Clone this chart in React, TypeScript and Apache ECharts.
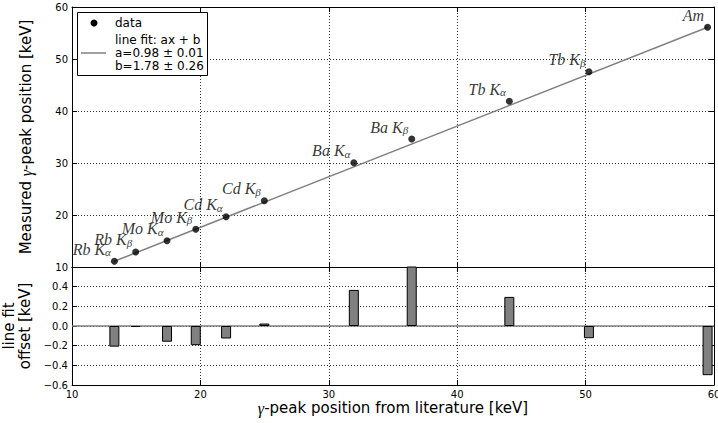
import React, { useEffect, useRef } from "react";
import * as echarts from "echarts";

// literature peak energies [keV]
const literature = [13.3, 14.96, 17.4, 19.64, 22.0, 24.98, 31.95, 36.46, 44.06, 50.26, 59.5];
// measured peak positions [keV]
const measured = [11.1, 12.9, 15.06, 17.25, 19.67, 22.75, 30.06, 34.6, 41.87, 47.56, 56.1];
// line fit residuals [keV]
const offsets = [-0.21, -0.01, -0.16, -0.195, -0.127, 0.025, 0.367, 0.65, 0.296, -0.124, -0.5];
// peak names and subscripts
const peakNames = ["Rb K", "Rb K", "Mo K", "Mo K", "Cd K", "Cd K", "Ba K", "Ba K", "Tb K", "Tb K", "Am"];
const peakSubs = ["α", "β", "α", "β", "α", "β", "α", "β", "α", "β", ""];
// fit line end points (literature, measured)
const fitLine = [
  [13.3, 11.1],
  [59.5, 56.1],
];
const xTicks = { min: 10, max: 60, interval: 10 };
const yTopTicks = { min: 10, max: 60, interval: 10 };
const yBotTicks = { min: -0.6, max: 0.6, interval: 0.2 };
const legendTexts = ["data", "line fit: ax + b", "a=0.98 ± 0.01", "b=1.78 ± 0.26"];

const SANS = "DejaVu Sans";
const SERIF = "Liberation Serif";

export default function App() {
  const ref = useRef<HTMLDivElement>(null);

  useEffect(() => {
    if (!ref.current) return;
    const chart = echarts.init(ref.current, undefined, { renderer: "svg" });

    const dotted = { show: true, lineStyle: { color: "#000", type: [1, 2] as any, width: 0.8 } };
    const axisLine = { show: true, onZero: false, lineStyle: { color: "#000", width: 1 } };
    const tick = { show: true, inside: true, length: 5, lineStyle: { color: "#000" } };
    const labelStyle = { fontFamily: SANS, fontSize: 10, color: "#000" };

    const fmtMinus = (v: number, d: number) => v.toFixed(d).replace("-", "\u2212");

    const gammaRich = {
      g: { fontFamily: SERIF, fontStyle: "italic", fontSize: 16, color: "#000" },
    };

    const scatterData = literature.map((x, i) => ({
      value: [x, measured[i]],
      name: peakNames[i],
      sub: peakSubs[i],
    }));

    const option: any = {
      animation: false,
      backgroundColor: "#fff",
      grid: [
        { left: 72, top: 7, width: 642, height: 260, outerBoundsMode: "none", containLabel: false },
        { left: 72, top: 267, width: 642, height: 118, outerBoundsMode: "none", containLabel: false },
      ],
      xAxis: [
        {
          type: "value", gridIndex: 0, position: "bottom", ...xTicks,
          axisLine, axisTick: tick, axisLabel: { show: false }, splitLine: dotted,
        },
        {
          type: "value", gridIndex: 0, position: "top", ...xTicks,
          axisLine, axisTick: tick, axisLabel: { show: false }, splitLine: { show: false },
        },
        {
          type: "value", gridIndex: 1, position: "bottom", ...xTicks,
          axisLine, axisTick: tick,
          axisLabel: { ...labelStyle, margin: 4 },
          splitLine: dotted,
          name: "{g|γ}-peak position from literature [keV]",
          nameLocation: "middle",
          nameGap: 15,
          nameTextStyle: { fontFamily: SANS, fontSize: 15, color: "#000", verticalAlign: "top", rich: gammaRich },
        },
        {
          type: "value", gridIndex: 1, position: "top", ...xTicks,
          axisLine, axisTick: tick, axisLabel: { show: false }, splitLine: { show: false },
        },
      ],
      yAxis: [
        {
          type: "value", gridIndex: 0, position: "left", ...yTopTicks,
          axisLine, axisTick: tick,
          axisLabel: { ...labelStyle, margin: 4 },
          splitLine: dotted,
          name: "Measured {g|γ}-peak position [keV]",
          nameLocation: "middle",
          nameGap: 38,
          nameRotate: 90,
          nameTextStyle: { fontFamily: SANS, fontSize: 15, color: "#000", rich: gammaRich },
        },
        {
          type: "value", gridIndex: 0, position: "right", ...yTopTicks,
          axisLine, axisTick: tick, axisLabel: { show: false }, splitLine: { show: false },
        },
        {
          type: "value", gridIndex: 1, position: "left", ...yBotTicks,
          axisLine, axisTick: tick,
          axisLabel: {
            ...labelStyle, margin: 4,
            formatter: (v: number) => (v > 0.55 ? "" : fmtMinus(v, 1)),
          },
          splitLine: dotted,
          name: "line fit\noffset [keV]",
          nameLocation: "middle",
          nameGap: 29,
          nameRotate: 90,
          nameTextStyle: { fontFamily: SANS, fontSize: 15, color: "#000", lineHeight: 16 },
        },
        {
          type: "value", gridIndex: 1, position: "right", ...yBotTicks,
          axisLine, axisTick: tick, axisLabel: { show: false }, splitLine: { show: false },
        },
      ],
      series: [
        {
          type: "line",
          xAxisIndex: 0, yAxisIndex: 0,
          data: fitLine,
          showSymbol: false,
          symbol: "none",
          lineStyle: { color: "#808080", width: 1.5 },
          z: 3,
        },
        {
          type: "scatter",
          xAxisIndex: 0, yAxisIndex: 0,
          data: scatterData,
          symbol: "circle",
          symbolSize: 7,
          itemStyle: { color: "#000" },
          z: 4,
          label: {
            show: true,
            position: [0, 0],
            align: "right",
            verticalAlign: "bottom",
            formatter: (p: any) =>
              p.data.sub ? `{n|${p.data.name}}{s|${p.data.sub}}` : `{n|${p.data.name}}`,
            rich: {
              n: { fontFamily: SERIF, fontStyle: "italic", fontSize: 16, color: "#000", lineHeight: 17 },
              s: { fontFamily: SERIF, fontStyle: "italic", fontSize: 11, color: "#000", lineHeight: 11, verticalAlign: "bottom" },
            },
          },
        },
        {
          type: "bar",
          xAxisIndex: 2, yAxisIndex: 2,
          data: literature.map((x, i) => [x, offsets[i]]),
          barWidth: 10,
          clip: true,
          itemStyle: { color: "#808080", borderColor: "#000", borderWidth: 1 },
          markLine: {
            silent: true,
            symbol: "none",
            label: { show: false },
            lineStyle: { color: "#808080", width: 1.5, type: "solid" },
            data: [{ yAxis: 0 }],
            z: 1,
          },
        },
      ],
      graphic: [
        {
          type: "rect",
          shape: { x: 77.5, y: 12.5, width: 130, height: 63 },
          style: { fill: "#fff", stroke: "#000", lineWidth: 1 },
          z: 100,
        },
        {
          type: "circle",
          shape: { cx: 94, cy: 23, r: 3.5 },
          style: { fill: "#000" },
          z: 101,
        },
        {
          type: "line",
          shape: { x1: 81, y1: 53, x2: 106, y2: 53 },
          style: { stroke: "#808080", lineWidth: 1.5 },
          z: 101,
        },
        ...legendTexts.map((t, i) => ({
          type: "text",
          x: 115,
          y: i === 0 ? 23 : 40 + (i - 1) * 13,
          z: 101,
          style: { text: t, fontFamily: SANS, fontSize: 12, fill: "#000", verticalAlign: "middle" },
        })),
      ],
    };

    chart.setOption(option);
    return () => chart.dispose();
  }, []);

  return (
    <div
      ref={ref}
      style={{ position: "fixed", left: 0, top: 0, width: 718, height: 423, background: "#fff" }}
    />
  );
}
